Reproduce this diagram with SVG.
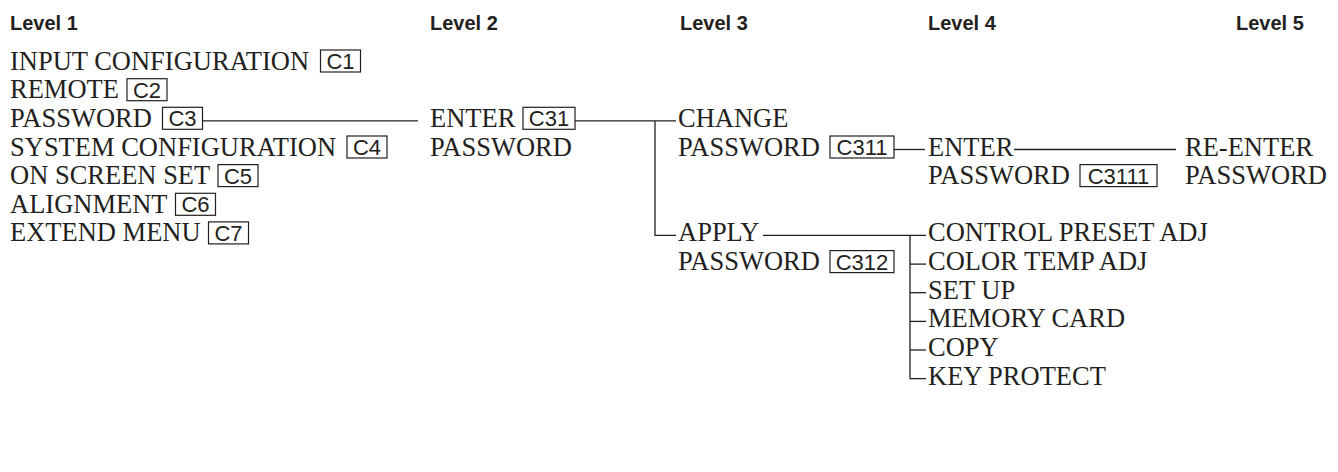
<svg xmlns="http://www.w3.org/2000/svg" width="1338" height="472" viewBox="0 0 1338 472">
  <style>
    .h { font-family: "Liberation Sans", Arial, sans-serif; font-weight: bold; font-size: 20px; fill: #231f20; }
    .t { font-family: "Liberation Serif", "Times New Roman", serif; font-size: 26.5px; fill: #231f20; }
    .c { font-family: "Liberation Sans", Arial, sans-serif; font-size: 22px; fill: #231f20; text-anchor: middle; }
    .box { fill: none; stroke: #231f20; stroke-width: 1.2; }
    .ln { fill: none; stroke: #231f20; stroke-width: 1.3; }
  </style>
  <rect width="1338" height="472" fill="#ffffff"/>

  <!-- column headings -->
  <g id="headings">
    <text class="h" x="10" y="30">Level 1</text>
    <text class="h" x="430" y="30">Level 2</text>
    <text class="h" x="680" y="30">Level 3</text>
    <text class="h" x="928" y="30">Level 4</text>
    <text class="h" x="1236" y="30">Level 5</text>
  </g>

  <!-- level 1 menu -->
  <g id="input-configuration">
    <text class="t" x="10" y="69.5">INPUT CONFIGURATION</text>
    <rect class="box" x="320.5" y="50" width="40" height="22"/>
    <text class="c" x="340.5" y="69">C1</text>
  </g>
  <g id="remote">
    <text class="t" x="10" y="98.2">REMOTE</text>
    <rect class="box" x="127" y="78.7" width="40" height="22"/>
    <text class="c" x="147" y="97.7">C2</text>
  </g>
  <g id="password">
    <text class="t" x="10" y="126.8">PASSWORD</text>
    <rect class="box" x="162.5" y="107.3" width="40" height="22"/>
    <text class="c" x="182.5" y="126.3">C3</text>
  </g>
  <g id="system-configuration">
    <text class="t" x="10" y="155.5">SYSTEM CONFIGURATION</text>
    <rect class="box" x="347" y="136" width="40" height="22"/>
    <text class="c" x="367" y="155">C4</text>
  </g>
  <g id="on-screen-set">
    <text class="t" x="10" y="184.1">ON SCREEN SET</text>
    <rect class="box" x="218" y="164.6" width="40" height="22"/>
    <text class="c" x="238" y="183.6">C5</text>
  </g>
  <g id="alignment">
    <text class="t" x="10" y="212.8">ALIGNMENT</text>
    <rect class="box" x="175.5" y="193.3" width="40" height="22"/>
    <text class="c" x="195.5" y="212.3">C6</text>
  </g>
  <g id="extend-menu">
    <text class="t" x="10" y="241.4">EXTEND MENU</text>
    <rect class="box" x="208.5" y="221.9" width="40" height="22"/>
    <text class="c" x="228.5" y="240.9">C7</text>
  </g>

  <!-- level 2 -->
  <g id="enter-password">
    <text class="t" x="430" y="126.8">ENTER</text>
    <rect class="box" x="523" y="107.3" width="52" height="22"/>
    <text class="c" x="549" y="126.3">C31</text>
    <text class="t" x="430" y="155.5">PASSWORD</text>
  </g>

  <!-- level 3 -->
  <g id="change-password">
    <text class="t" x="678" y="126.8">CHANGE</text>
    <text class="t" x="678" y="155.5">PASSWORD</text>
    <rect class="box" x="830" y="136" width="64" height="22"/>
    <text class="c" x="862" y="155">C311</text>
  </g>
  <g id="apply-password">
    <text class="t" x="678" y="241.4">APPLY</text>
    <text class="t" x="678" y="270.1">PASSWORD</text>
    <rect class="box" x="830" y="250.6" width="64" height="22"/>
    <text class="c" x="862" y="269.6">C312</text>
  </g>

  <!-- level 4 -->
  <g id="enter-new-password">
    <text class="t" x="928" y="155.5">ENTER</text>
    <text class="t" x="928" y="184.1">PASSWORD</text>
    <rect class="box" x="1080" y="164.6" width="77" height="22"/>
    <text class="c" x="1118.5" y="183.6">C3111</text>
  </g>
  <g id="control-preset-adj"><text class="t" x="928" y="241.4">CONTROL PRESET ADJ</text></g>
  <g id="color-temp-adj"><text class="t" x="928" y="270.1">COLOR TEMP ADJ</text></g>
  <g id="set-up"><text class="t" x="928" y="298.7">SET UP</text></g>
  <g id="memory-card"><text class="t" x="928" y="327.4">MEMORY CARD</text></g>
  <g id="copy"><text class="t" x="928" y="356">COPY</text></g>
  <g id="key-protect"><text class="t" x="928" y="384.7">KEY PROTECT</text></g>

  <!-- level 5 -->
  <g id="re-enter-password">
    <text class="t" x="1185" y="155.5">RE-ENTER</text>
    <text class="t" x="1185" y="184.1">PASSWORD</text>
  </g>

  <!-- connectors -->
  <g id="connectors">
    <line class="ln" x1="202.5" y1="120.8" x2="418" y2="120.8"/>
    <line class="ln" x1="575" y1="120.8" x2="676" y2="120.8"/>
    <path class="ln" d="M655 120.8 V235.4 H676"/>
    <line class="ln" x1="894" y1="149.5" x2="925" y2="149.5"/>
    <line class="ln" x1="1014" y1="149.5" x2="1176" y2="149.5"/>
    <line class="ln" x1="763" y1="235.4" x2="926" y2="235.4"/>
    <path class="ln" d="M910 235.4 V378.7 H926"/>
    <line class="ln" x1="910" y1="264.1" x2="926" y2="264.1"/>
    <line class="ln" x1="910" y1="292.7" x2="926" y2="292.7"/>
    <line class="ln" x1="910" y1="321.4" x2="926" y2="321.4"/>
    <line class="ln" x1="910" y1="350" x2="926" y2="350"/>
  </g>
</svg>
